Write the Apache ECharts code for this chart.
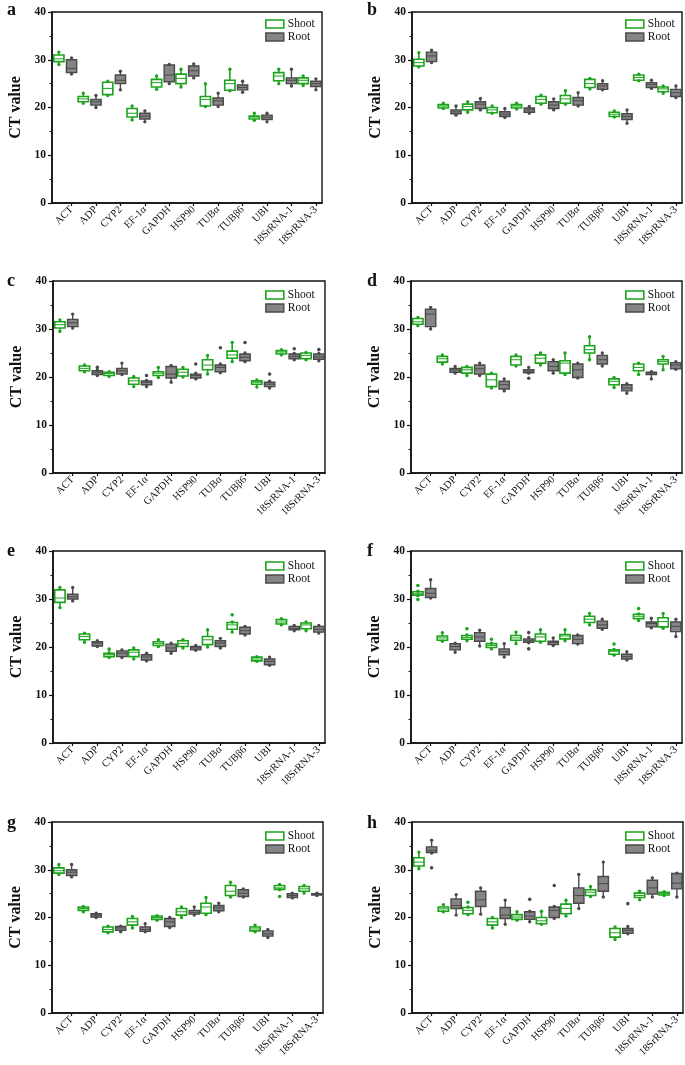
<!DOCTYPE html>
<html><head><meta charset="utf-8">
<script src="https://cdn.jsdelivr.net/npm/echarts@6/dist/echarts.min.js"></script>
<style>html,body{margin:0;padding:0;background:#fff}#c{width:685px;height:1065px}</style>
</head><body><div id="c"></div>
<script>
const categories = ['ACT','ADP','CYP2','EF-1α','GAPDH','HSP90','TUBα','TUBβ6','UBI','18SrRNA-1','18SrRNA-3'];
const yTickValues = [0, 10, 20, 30, 40];
const seriesNames = ['Shoot', 'Root'];

// each row: [min, Q1, median, Q3, max]
const aShoot = [[29.0,29.6,30.2,31.0,31.6],[20.9,21.2,21.8,22.3,23.0],[22.5,22.7,24.0,25.3,25.5],[17.4,18.0,18.8,19.8,20.3],[23.8,24.3,25.2,25.9,26.6],[24.3,25.0,26.1,27.0,28.0],[20.2,20.3,21.7,22.3,25.0],[23.5,23.6,25.0,25.7,28.0],[17.3,17.6,18.0,18.2,18.8],[25.0,25.6,26.6,27.3,28.0],[24.6,25.0,25.7,26.2,26.6]];
const aRoot  = [[27.0,27.3,28.2,30.0,30.4],[20.0,20.5,21.2,21.7,22.5],[23.7,25.0,25.7,26.8,27.6],[17.0,17.6,18.2,18.8,19.3],[25.0,25.4,26.8,28.9,29.0],[26.2,26.6,27.7,28.7,29.1],[20.2,20.5,21.4,22.0,23.0],[23.2,23.7,24.2,24.7,25.5],[17.0,17.5,18.0,18.4,18.8],[24.5,25.0,25.7,26.2,28.0],[23.7,24.4,25.0,25.5,26.0]];
const aOutShoot = [];
const aOutRoot = [];

const bShoot = [[28.5,28.7,29.4,30.1,31.5],[19.8,19.9,20.3,20.6,20.9],[19.0,19.5,20.2,20.7,21.2],[18.8,18.9,19.5,20.0,20.3],[19.7,19.9,20.3,20.6,20.9],[20.7,20.9,21.7,22.3,22.6],[20.7,20.9,21.8,22.5,23.5],[23.9,24.2,25.0,25.9,26.1],[18.0,18.1,18.6,19.0,19.3],[25.6,25.7,26.3,26.8,27.0],[23.0,23.3,23.9,24.3,24.5]];
const bRoot  = [[29.4,29.6,30.8,31.6,32.0],[18.4,18.7,19.1,19.5,20.3],[19.5,19.8,20.7,21.2,21.9],[17.9,18.1,18.6,19.1,19.8],[18.8,19.0,19.5,19.9,20.2],[19.5,19.8,20.5,21.2,21.8],[20.3,20.5,21.4,22.1,23.1],[23.7,23.8,24.5,25.0,25.6],[16.7,17.5,18.1,18.7,19.5],[24.0,24.2,24.8,25.2,25.7],[22.1,22.3,23.1,23.8,24.5]];
const bOutShoot = [];
const bOutRoot = [];

const cShoot = [[29.5,30.2,30.9,31.5,31.9],[21.1,21.3,21.8,22.3,22.5],[20.1,20.3,20.7,21.0,21.1],[18.0,18.5,19.2,19.8,20.1],[19.9,20.3,20.8,21.1,22.0],[20.0,20.2,21.0,21.6,22.0],[20.6,21.5,22.5,23.6,24.5],[23.2,23.9,24.6,25.4,27.2],[17.9,18.5,18.9,19.2,19.4],[24.6,24.8,25.2,25.5,25.7],[23.6,23.8,24.5,25.0,25.1]];
const cRoot  = [[30.2,30.5,31.3,32.0,33.1],[20.3,20.5,20.9,21.3,21.4],[20.5,20.6,21.3,21.8,22.9],[18.0,18.4,18.9,19.2,19.3],[18.9,19.8,20.6,22.2,22.4],[19.6,19.8,20.3,20.6,20.8],[20.9,21.1,22.0,22.5,22.7],[23.2,23.4,24.1,24.8,25.0],[17.7,18.0,18.5,18.9,19.1],[23.6,23.8,24.3,24.8,24.9],[23.4,23.7,24.2,24.8,24.9]];
const cOutShoot = [];
const cOutRoot = [[1,22.0],[3,20.3],[5,22.7],[6,26.1],[7,27.2],[8,20.6],[9,25.9],[10,25.7]];

const dShoot = [[30.7,31.0,31.5,32.2,32.4],[22.7,23.1,23.8,24.3,24.6],[20.3,20.8,21.5,22.0,22.2],[17.7,18.0,19.4,20.6,20.8],[22.3,22.5,23.6,24.3,24.6],[22.5,22.9,23.9,24.6,25.0],[20.5,20.8,22.9,23.4,25.0],[23.6,25.0,25.7,26.5,28.4],[17.8,18.4,19.1,19.6,19.9],[20.5,21.3,22.0,22.7,22.9],[21.5,22.7,23.2,23.6,24.3]];
const dRoot  = [[30.0,30.5,33.1,34.1,34.5],[20.8,21.0,21.5,21.8,22.2],[20.3,20.6,21.7,22.5,22.9],[17.1,17.5,18.4,19.1,19.6],[20.8,20.9,21.1,21.5,22.0],[20.8,21.3,22.2,23.2,23.6],[19.8,19.9,21.5,22.7,22.9],[22.3,22.7,23.6,24.5,25.0],[16.6,17.1,17.7,18.4,18.6],[19.6,20.5,20.8,21.0,21.1],[21.6,21.7,22.5,23.0,23.2]];
const dOutShoot = [];
const dOutRoot = [[4,19.75]];

const eShoot = [[28.2,29.3,30.2,31.9,32.4],[21.0,21.5,22.2,22.7,22.9],[17.8,18.0,18.4,18.7,18.8],[17.5,18.0,18.9,19.4,19.8],[20.1,20.3,20.7,21.1,21.5],[19.8,20.1,20.7,21.3,21.5],[20.0,20.5,21.5,22.2,23.6],[23.1,23.7,24.6,25.1,25.2],[17.0,17.1,17.5,17.9,18.0],[24.6,24.8,25.2,25.7,25.9],[23.4,23.8,24.6,25.0,25.2]];
const eRoot  = [[29.6,30.0,30.5,31.0,32.4],[20.1,20.2,20.8,21.1,21.3],[17.8,18.0,18.7,19.2,19.4],[17.1,17.3,17.9,18.4,18.7],[18.7,19.1,19.8,20.6,20.8],[19.3,19.4,19.8,20.1,20.3],[19.8,20.1,20.8,21.3,21.8],[22.5,22.7,23.4,24.1,24.3],[16.2,16.3,17.0,17.5,17.9],[23.4,23.6,23.9,24.3,24.5],[22.9,23.1,23.7,24.3,24.5]];
const eOutShoot = [[2,19.55],[7,26.7]];
const eOutRoot = [];

const fShoot = [[30.7,30.8,31.1,31.5,31.6],[21.2,21.4,21.9,22.3,23.0],[21.3,21.6,22.0,22.4,22.5],[19.6,19.9,20.3,20.7,20.8],[20.7,21.4,21.9,22.4,23.1],[21.0,21.2,22.1,22.7,23.6],[21.3,21.7,22.3,22.6,23.6],[24.6,25.1,25.8,26.4,27.0],[18.3,18.5,19.1,19.4,19.5],[25.5,25.9,26.3,26.8,26.9],[23.9,24.2,25.3,26.1,27.0]];
const fRoot  = [[30.2,30.3,31.2,32.2,34.0],[18.9,19.4,20.1,20.7,20.8],[20.2,21.2,22.1,23.0,23.5],[17.9,18.4,19.0,19.6,20.7],[20.9,21.0,21.4,21.7,22.0],[20.3,20.5,20.9,21.2,21.9],[20.6,20.7,21.6,22.4,22.5],[23.7,23.9,24.6,25.4,25.8],[17.3,17.5,18.0,18.5,19.0],[24.0,24.2,24.9,25.2,26.0],[22.2,23.2,24.3,25.2,25.8]];
const fOutShoot = [[0,32.8],[0,29.9],[2,23.8],[3,21.6],[8,20.6],[9,28.0]];
const fOutRoot = [[4,19.6],[4,23.0]];

const gShoot = [[29.0,29.3,29.8,30.4,31.1],[21.2,21.5,21.9,22.2,22.3],[16.8,17.0,17.5,18.0,18.2],[17.8,18.4,19.1,19.8,20.2],[19.4,19.6,20.0,20.3,20.4],[20.0,20.5,21.2,21.9,22.2],[20.6,20.9,22.2,23.0,24.2],[24.3,24.6,25.5,26.7,27.4],[17.0,17.2,17.6,18.0,18.4],[25.8,25.9,26.2,26.7,26.9],[25.1,25.5,26.0,26.5,26.7]];
const gRoot  = [[28.5,28.8,29.5,30.0,31.1],[20.0,20.1,20.5,20.8,20.9],[17.0,17.3,17.8,18.1,18.2],[17.0,17.1,17.5,18.0,18.7],[17.9,18.1,19.1,19.8,20.0],[20.5,20.7,21.1,21.5,22.2],[21.2,21.4,22.0,22.5,23.0],[24.3,24.4,25.1,25.8,26.0],[15.8,16.1,16.6,17.2,17.5],[24.1,24.2,24.6,25.0,25.1],[24.6,24.7,24.8,25.0,25.1]];
const gOutShoot = [[9,24.4]];
const gOutRoot = [];

const hShoot = [[30.2,30.8,31.6,32.5,33.7],[21.2,21.3,21.8,22.2,22.7],[20.6,20.8,21.5,22.1,22.2],[17.8,18.4,19.1,19.8,20.0],[19.4,19.6,20.1,20.6,21.2],[18.6,18.7,19.3,20.0,21.3],[20.3,20.8,21.9,22.8,23.6],[24.4,24.6,25.3,25.8,26.5],[15.4,15.9,16.8,17.7,18.0],[23.7,24.2,24.6,25.1,25.5],[24.6,24.7,25.0,25.3,25.4]];
const hRoot  = [[33.5,33.6,34.1,34.8,36.2],[20.5,21.9,22.5,23.9,24.8],[20.7,22.3,23.7,25.5,26.2],[18.6,19.8,20.5,22.1,23.6],[19.1,19.6,20.3,21.2,21.3],[19.8,20.0,21.5,22.2,22.3],[21.9,23.0,24.6,26.2,29.0],[24.3,25.5,27.1,28.6,31.6],[16.6,16.7,17.3,17.7,18.1],[24.3,24.9,26.2,27.8,28.3],[24.3,26.0,27.2,29.2,29.3]];
const hOutShoot = [[2,23.2]];
const hOutRoot = [[0,30.4],[4,23.8],[5,26.7],[8,22.9]];

// ---- styling / layout ----
const FONT = 'Liberation Serif';
const GREEN = '#1ca41c';
const GREY_FILL = '#858585';
const GREY_LINE = '#4a4a4a';
const INK = '#111';
const SHOOT_OFF = -0.52, ROOT_OFF = 0;

const panels = [
  {letter:'a', shoot:aShoot, root:aRoot, oS:aOutShoot, oR:aOutRoot, g:{left:52, top:12, width:270, height:191}, L:{x:7, y:1}, lg:{left:265, top:18}},
  {letter:'b', shoot:bShoot, root:bRoot, oS:bOutShoot, oR:bOutRoot, g:{left:412, top:12, width:270, height:191}, L:{x:367, y:1}, lg:{left:625, top:18}},
  {letter:'c', shoot:cShoot, root:cRoot, oS:cOutShoot, oR:cOutRoot, g:{left:53, top:281, width:272, height:192}, L:{x:7, y:272}, lg:{left:265, top:289}},
  {letter:'d', shoot:dShoot, root:dRoot, oS:dOutShoot, oR:dOutRoot, g:{left:411, top:281, width:271, height:192}, L:{x:367, y:272}, lg:{left:625, top:289}},
  {letter:'e', shoot:eShoot, root:eRoot, oS:eOutShoot, oR:eOutRoot, g:{left:53, top:551, width:272, height:192}, L:{x:7, y:542}, lg:{left:265, top:560}},
  {letter:'f', shoot:fShoot, root:fRoot, oS:fOutShoot, oR:fOutRoot, g:{left:411, top:551, width:271, height:192}, L:{x:367, y:542}, lg:{left:625, top:560}},
  {letter:'g', shoot:gShoot, root:gRoot, oS:gOutShoot, oR:gOutRoot, g:{left:52, top:822, width:271, height:191}, L:{x:7, y:814}, lg:{left:265, top:830}},
  {letter:'h', shoot:hShoot, root:hRoot, oS:hOutShoot, oR:hOutRoot, g:{left:412, top:822, width:271, height:191}, L:{x:367, y:814}, lg:{left:625, top:830}}
];

const catTicks = categories.map((c, i) => i);

function boxRenderer(off, stroke, fill, lw) {
  return function (params, api) {
    const i = api.value(0);
    const unit = api.size([1, 0])[0];
    const w = unit * 0.42;
    const x = api.coord([i + off, 0])[0];
    const yMin = api.coord([0, api.value(1)])[1];
    const yQ1 = api.coord([0, api.value(2)])[1];
    const yMed = api.coord([0, api.value(3)])[1];
    const yQ3 = api.coord([0, api.value(4)])[1];
    const yMax = api.coord([0, api.value(5)])[1];
    const ls = {stroke: stroke, lineWidth: lw};
    return {type: 'group', children: [
      {type: 'line', shape: {x1: x, y1: yMax, x2: x, y2: yQ3}, style: ls},
      {type: 'line', shape: {x1: x, y1: yQ1, x2: x, y2: yMin}, style: ls},
      {type: 'rect', shape: {x: x - w / 2, y: yQ3, width: w, height: Math.max(yQ1 - yQ3, 1.5)}, style: {fill: fill, stroke: stroke, lineWidth: lw}},
      {type: 'line', shape: {x1: x - w / 2, y1: yMed, x2: x + w / 2, y2: yMed}, style: {stroke: stroke, lineWidth: 1}},
      {type: 'circle', shape: {cx: x, cy: yMax, r: 1.7}, style: {fill: stroke}},
      {type: 'circle', shape: {cx: x, cy: yMin, r: 1.7}, style: {fill: stroke}}
    ]};
  };
}
function dotRenderer(off, color) {
  return function (params, api) {
    const p = api.coord([api.value(0) + off, api.value(1)]);
    return {type: 'circle', shape: {cx: p[0], cy: p[1], r: 1.8}, style: {fill: color}};
  };
}

const option = {
  animation: false,
  backgroundColor: '#fff',
  title: [], grid: [], xAxis: [], yAxis: [], legend: [], series: []
};

panels.forEach((p, k) => {
  option.title.push({text: p.letter, left: p.L.x, top: p.L.y, padding: 0,
    textStyle: {fontFamily: FONT, fontWeight: 'bold', fontSize: 18, color: INK}});
  option.grid.push(Object.assign({show: true, borderColor: INK, borderWidth: 1.4, containLabel: false}, p.g));
  option.xAxis.push({
    type: 'value', gridIndex: k, min: -0.8, max: 10.25,
    axisLine: {show: true, onZero: false, lineStyle: {color: INK, width: 1.6}},
    axisTick: {show: true, customValues: catTicks, length: 3, lineStyle: {color: INK, width: 1.2}},
    axisLabel: {show: true, customValues: catTicks, rotate: 45, margin: 5,
      formatter: v => categories[Math.round(v)] || '',
      fontFamily: FONT, fontSize: 10.5, color: INK},
    splitLine: {show: false}, minorTick: {show: false}
  });
  option.yAxis.push({
    type: 'value', gridIndex: k, min: 0, max: 40, interval: 10,
    name: 'CT value', nameLocation: 'middle', nameGap: 28,
    nameTextStyle: {fontFamily: FONT, fontWeight: 'bold', fontSize: 16, color: INK},
    axisLine: {show: true, onZero: false, lineStyle: {color: INK, width: 1.6}},
    axisTick: {show: true, length: 4, lineStyle: {color: INK, width: 1.2}},
    minorTick: {show: true, splitNumber: 2, length: 2.5, lineStyle: {color: INK, width: 1}},
    axisLabel: {fontFamily: FONT, fontWeight: 'bold', fontSize: 11.5, color: INK, margin: 6,
      customValues: yTickValues},
    splitLine: {show: false}
  });
  option.legend.push({
    orient: 'vertical', left: p.lg.left, top: p.lg.top, padding: 0, itemGap: 1,
    itemWidth: 18, itemHeight: 8, icon: 'rect', selectedMode: false,
    textStyle: {fontFamily: FONT, fontSize: 11.5, color: INK, padding: [0, 0, 0, -1]},
    data: [
      {name: seriesNames[0], itemStyle: {color: '#fff', borderColor: GREEN, borderWidth: 1.6}},
      {name: seriesNames[1], itemStyle: {color: GREY_FILL, borderColor: GREY_LINE, borderWidth: 1.4}}
    ]
  });
  const toRows = arr => arr.map((r, i) => [i].concat(r));
  option.series.push(
    {type: 'custom', name: seriesNames[0], xAxisIndex: k, yAxisIndex: k, clip: false,
      itemStyle: {color: '#fff', borderColor: GREEN},
      renderItem: boxRenderer(SHOOT_OFF, GREEN, '#fff', 1.6),
      encode: {x: 0, y: [1, 2, 3, 4, 5]}, data: toRows(p.shoot)},
    {type: 'custom', name: seriesNames[1], xAxisIndex: k, yAxisIndex: k, clip: false,
      itemStyle: {color: GREY_FILL, borderColor: GREY_LINE},
      renderItem: boxRenderer(ROOT_OFF, GREY_LINE, GREY_FILL, 1.4),
      encode: {x: 0, y: [1, 2, 3, 4, 5]}, data: toRows(p.root)},
    {type: 'custom', name: seriesNames[0], xAxisIndex: k, yAxisIndex: k, clip: false,
      renderItem: dotRenderer(SHOOT_OFF, GREEN), encode: {x: 0, y: 1}, data: p.oS},
    {type: 'custom', name: seriesNames[1], xAxisIndex: k, yAxisIndex: k, clip: false,
      renderItem: dotRenderer(ROOT_OFF, GREY_LINE), encode: {x: 0, y: 1}, data: p.oR}
  );
});

const chart = echarts.init(document.getElementById('c'), null, {renderer: 'canvas'});
chart.setOption(option);
</script>
</body></html>
